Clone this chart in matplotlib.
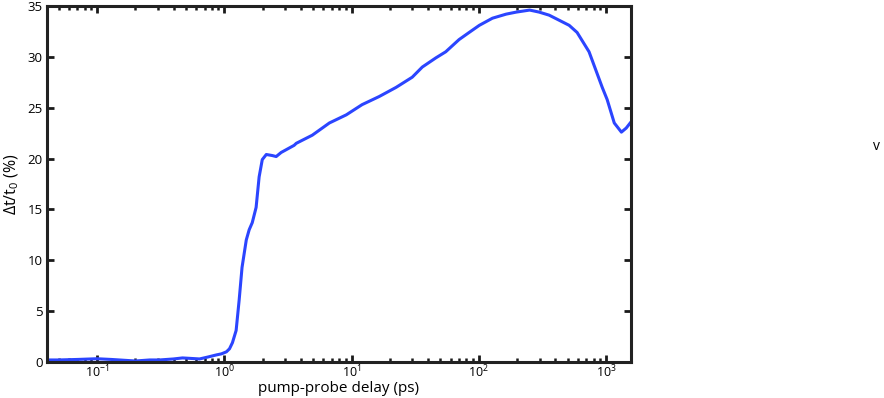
import matplotlib
matplotlib.use("Agg")
import matplotlib.pyplot as plt
from matplotlib.ticker import LogLocator, NullFormatter

plt.rcParams['font.family'] = ['Open Sans', 'DejaVu Sans']
plt.rcParams['mathtext.fontset'] = 'custom'
plt.rcParams['mathtext.rm'] = 'Open Sans'
plt.rcParams['mathtext.it'] = 'Open Sans'

delay_ps = [0.0405, 0.05, 0.07, 0.1, 0.13, 0.2, 0.26, 0.31, 0.4, 0.47, 0.55, 0.64, 0.75, 0.87,
            0.95, 1.04, 1.1, 1.16, 1.24, 1.31, 1.38, 1.49, 1.57, 1.66, 1.78, 1.88, 1.99,
            2.14, 2.38, 2.56, 2.80, 3.54, 3.68, 4.92, 6.7, 9.1, 12.1, 16.5, 22.4, 30, 36,
            46, 55, 70, 84, 101, 128, 164, 197, 251, 298, 357, 428, 513, 592, 735, 933,
            1020, 1160, 1320, 1440, 1570]
dt_pct = [0.2, 0.2, 0.25, 0.32, 0.25, 0.1, 0.2, 0.2, 0.3, 0.4, 0.35, 0.3, 0.5, 0.7,
          0.8, 1.0, 1.3, 1.9, 3.1, 6.1, 9.3, 12.0, 13.0, 13.7, 15.2, 18.2, 19.9,
          20.4, 20.3, 20.2, 20.6, 21.3, 21.5, 22.3, 23.5, 24.3, 25.3, 26.1, 27.0, 28.0, 29.0,
          29.9, 30.5, 31.7, 32.4, 33.1, 33.8, 34.2, 34.4, 34.6, 34.4, 34.1, 33.6, 33.1, 32.4, 30.5, 27.0,
          25.8, 23.5, 22.6, 23.0, 23.6]

fig = plt.figure(figsize=(8.84, 3.98), dpi=100)
ax = fig.add_axes([47/884, 36/398, 584/884, 356/398])
ax.plot(delay_ps, dt_pct, color='#2b45ff', lw=2.2, solid_capstyle='round', solid_joinstyle='round')
ax.set_xscale('log')
ax.set_xlim(0.0405, 1570)
ax.set_ylim(0, 35)
ax.set_yticks(range(0, 36, 5))
ax.xaxis.set_major_locator(LogLocator(base=10, numticks=10))
ax.xaxis.set_minor_locator(LogLocator(base=10, subs=range(2, 10), numticks=20))
ax.xaxis.set_minor_formatter(NullFormatter())
ax.tick_params(which='major', direction='in', length=5, width=2, top=True, right=True,
               labelsize=9.5, color='#1a1a1a', pad=3)
ax.tick_params(axis='x', which='major', pad=1.5, labelsize=9)
ax.tick_params(which='minor', direction='in', length=3, width=1.8, top=True, right=True,
               color='#1a1a1a')
for s in ax.spines.values():
    s.set_linewidth(2.2)
    s.set_color('#222222')
ax.set_xlabel('pump-probe delay (ps)', fontsize=11, labelpad=0.5)
ax.set_ylabel(r'$\Delta$t/t$_0$ (%)', fontsize=11.5, labelpad=5)
fig.text(880/884, 1 - 147/398, 'v', fontsize=10, ha='right', va='center')
fig.savefig('out.png', dpi=100)
